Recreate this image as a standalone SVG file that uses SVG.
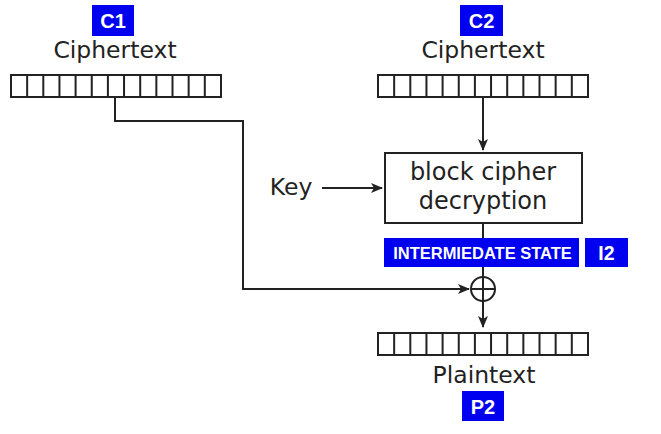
<svg xmlns="http://www.w3.org/2000/svg" width="661" height="434" viewBox="0 0 661 434">
<style>
.t{font-family:"DejaVu Sans",sans-serif;fill:#222;text-anchor:middle}
.b{font-family:"Liberation Sans",Arial,sans-serif;font-weight:bold;fill:#fff;text-anchor:middle}
.badge{fill:#0000f0}
.ln{stroke:#222;stroke-width:2;fill:none}
.cell{fill:#fff;stroke:#222;stroke-width:2}
</style>
<defs>
<marker id="ah" viewBox="0 0 12 10" refX="11" refY="5" markerWidth="12" markerHeight="10" markerUnits="userSpaceOnUse" orient="auto">
<path d="M0,0 L12,5 L0,10 L3,5 Z" fill="#222"/>
</marker>
<g id="blk">
<rect class="cell" x="0" y="0" width="210" height="22"/>
<path class="ln" d="M16.15,0v22M32.3,0v22M48.45,0v22M64.6,0v22M80.75,0v22M96.9,0v22M113.05,0v22M129.2,0v22M145.35,0v22M161.5,0v22M177.65,0v22M193.8,0v22"/>
</g>
</defs>
<rect width="661" height="434" fill="#fff"/>
<g id="connectors">
<path class="ln" d="M115,97 V121 H243 V289 H469" marker-end="url(#ah)"/>
<path class="ln" d="M483,97 V150" marker-end="url(#ah)"/>
<path class="ln" d="M322,188 H382" marker-end="url(#ah)"/>
<path class="ln" d="M483,223 V277"/>
<path class="ln" d="M483,301 V327" marker-end="url(#ah)"/>
</g>
<g id="c1">
<rect class="badge" x="92" y="5" width="42" height="31"/>
<text class="b" x="113" y="28" font-size="20">C1</text>
<text class="t" x="115" y="58" font-size="23.5">Ciphertext</text>
<use href="#blk" x="11" y="75"/>
</g>
<g id="c2">
<rect class="badge" x="460" y="5" width="43" height="31"/>
<text class="b" x="481.5" y="28" font-size="20">C2</text>
<text class="t" x="483" y="58" font-size="23.5">Ciphertext</text>
<use href="#blk" x="378" y="75"/>
</g>
<g id="key">
<text class="t" x="291" y="195" font-size="23.5">Key</text>
</g>
<g id="cipher">
<rect x="385" y="153" width="197" height="70" fill="#fff" stroke="#222" stroke-width="2"/>
<text class="t" x="483" y="180" font-size="24">block cipher</text>
<text class="t" x="483" y="209" font-size="24">decryption</text>
</g>
<g id="intermediate">
<rect class="badge" x="384" y="238" width="195" height="29"/>
<text class="b" x="482.5" y="258.5" font-size="16.5">INTERMIEDATE STATE</text>
<rect class="badge" x="585" y="238" width="43" height="29"/>
<text class="b" x="606.5" y="259.5" font-size="19.5">I2</text>
</g>
<g id="xor">
<circle cx="483" cy="289" r="12" fill="#fff" stroke="#222" stroke-width="2"/>
<path class="ln" d="M471,289 H495 M483,277 V301"/>
</g>
<g id="p2">
<use href="#blk" x="378" y="333"/>
<text class="t" x="484" y="383" font-size="23.5">Plaintext</text>
<rect class="badge" x="462" y="391" width="42" height="30"/>
<text class="b" x="483" y="413.5" font-size="20">P2</text>
</g>
</svg>
